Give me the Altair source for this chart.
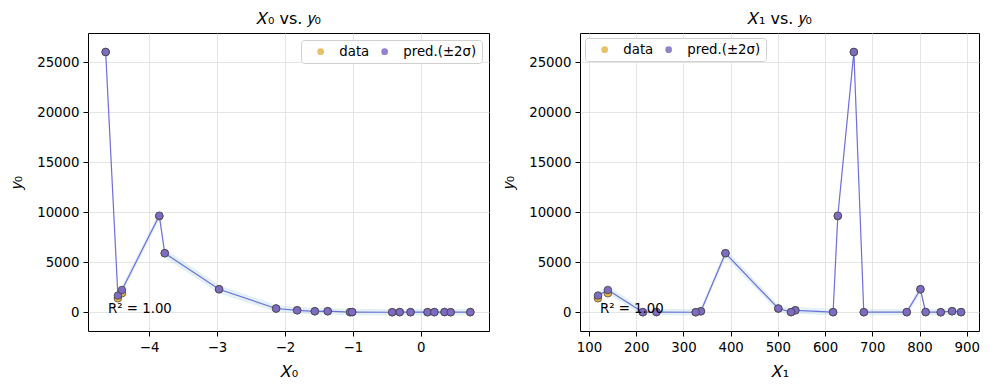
import altair as alt
import pandas as pd

# ---- values ----
x0_vals = [-4.64, -4.46, -4.40, -3.85, -3.77, -2.97, -2.13, -1.82, -1.56, -1.37,
           -1.04, -1.01, -0.42, -0.31, -0.15, 0.10, 0.20, 0.35, 0.44, 0.73]
x1_vals = [661, 119, 140, 627, 389, 802, 501, 537, 337, 869,
           214, 243, 326, 528, 617, 682, 773, 813, 845, 888]
y_data = [26000, 1400, 1900, 9600, 5900, 2300, 370, 200, 100, 100,
          10, 20, 5, 15, 10, 8, 12, 20, 6, 15]
y_pred = [26000, 1670, 2230, 9650, 5900, 2300, 380, 200, 100, 110,
          10, 20, 5, 15, 10, 8, 12, 20, 6, 15]
two_sigma = [400, 350, 400, 400, 450, 400, 350, 320, 320, 320,
             320, 320, 320, 320, 320, 320, 320, 320, 320, 320]

y_ticks = [0, 5000, 10000, 15000, 20000, 25000]
x0_ticks = [-4, -3, -2, -1, 0]
x1_ticks = [100, 200, 300, 400, 500, 600, 700, 800, 900]
series_names = ["data", "pred.(±2σ)"]
series_colors = ["#e6b54c", "#7e6cc2"]
panel_titles = ["𝑋₀ vs. 𝑦₀", "𝑋₁ vs. 𝑦₀"]
x_titles = ["𝑋₀", "𝑋₁"]
y_title = "𝑦₀"
r2_label = "R² = 1.00"

y_domain = [-1870, 27900]
x0_domain = [-4.90, 1.005]
x1_domain = [81, 926]

PLOT_H = 298
FONT = "DejaVu Sans"


def make_panel(xvals, xdomain, xticks, title, xtitle, legend_orient, legend_offset, width):
    pts = pd.DataFrame({
        "x": list(xvals) * 2,
        "y": list(y_data) + list(y_pred),
        "series": [series_names[0]] * len(xvals) + [series_names[1]] * len(xvals),
    })
    band = pd.DataFrame({
        "x": xvals,
        "pred": y_pred,
        "lo": [p - s for p, s in zip(y_pred, two_sigma)],
        "hi": [p + s for p, s in zip(y_pred, two_sigma)],
    }).sort_values("x")

    xscale = alt.Scale(domain=xdomain, nice=False, zero=False)
    yscale = alt.Scale(domain=y_domain, nice=False, zero=False)
    xaxis = alt.Axis(values=xticks, title=xtitle, format="d", titlePadding=10)
    yaxis = alt.Axis(values=y_ticks, title=y_title, format="d", titlePadding=12)

    area = alt.Chart(band).mark_area(fill="#add8e6", fillOpacity=0.35, stroke=None).encode(
        x=alt.X("x:Q", scale=xscale, axis=xaxis),
        y=alt.Y("lo:Q", scale=yscale, axis=yaxis, stack=None),
        y2="hi:Q",
    )
    line = alt.Chart(band).mark_line(color="#6f6fd8", strokeWidth=1.2).encode(
        x=alt.X("x:Q", scale=xscale),
        y=alt.Y("pred:Q", scale=yscale),
        order=alt.Order("x:Q"),
    )
    points = alt.Chart(pts).mark_circle(
        size=58, opacity=1, stroke="#3a3a3a", strokeWidth=0.7
    ).encode(
        x=alt.X("x:Q", scale=xscale),
        y=alt.Y("y:Q", scale=yscale),
        color=alt.Color(
            "series:N",
            scale=alt.Scale(domain=series_names, range=series_colors),
            sort=series_names,
            legend=alt.Legend(
                title=None, orient=legend_orient, offset=legend_offset,
                direction="horizontal", symbolType="circle",
            ),
        ),
    )
    text = alt.Chart(pd.DataFrame({"t": [r2_label]})).mark_text(
        align="left", baseline="alphabetic", fontSize=13.3, font=FONT, color="black"
    ).encode(x=alt.value(0.05 * width), y=alt.value(PLOT_H * 0.94), text="t:N")

    return alt.layer(area, line, points, text).properties(
        width=width, height=PLOT_H,
        title=alt.TitleParams(title, fontSize=16, font=FONT, fontWeight="normal", offset=6),
    )


left = make_panel(x0_vals, x0_domain, x0_ticks, panel_titles[0], x_titles[0], "top-right", 7, 401)
right = make_panel(x1_vals, x1_domain, x1_ticks, panel_titles[1], x_titles[1], "top-left", 5, 399)

chart = alt.hconcat(left, right, spacing=10).resolve_legend(color="independent").resolve_scale(
    x="independent", color="independent"
).properties(
    padding={"left": 0, "top": 2, "right": 2, "bottom": 2}
).configure(
    font=FONT,
).configure_view(
    stroke="black", strokeWidth=1
).configure_axis(
    labelFont=FONT, labelFontSize=13.3, labelColor="black",
    titleFont=FONT, titleFontSize=16, titleFontWeight="normal", titleColor="black",
    tickColor="black", tickSize=5, tickWidth=1, labelPadding=4,
    domain=False, grid=True, gridColor="#dedede", gridWidth=0.8,
).configure_legend(
    labelFont=FONT, labelFontSize=13.3, labelColor="black",
    fillColor="white", strokeColor="#d0d0d0", cornerRadius=3, padding=5,
    symbolSize=45, symbolStrokeWidth=0, symbolOffset=8, labelOffset=12, columnPadding=0,
    symbolOpacity=0.85,
)

chart.save("out.html", embed_options={"renderer": "svg", "actions": False})
